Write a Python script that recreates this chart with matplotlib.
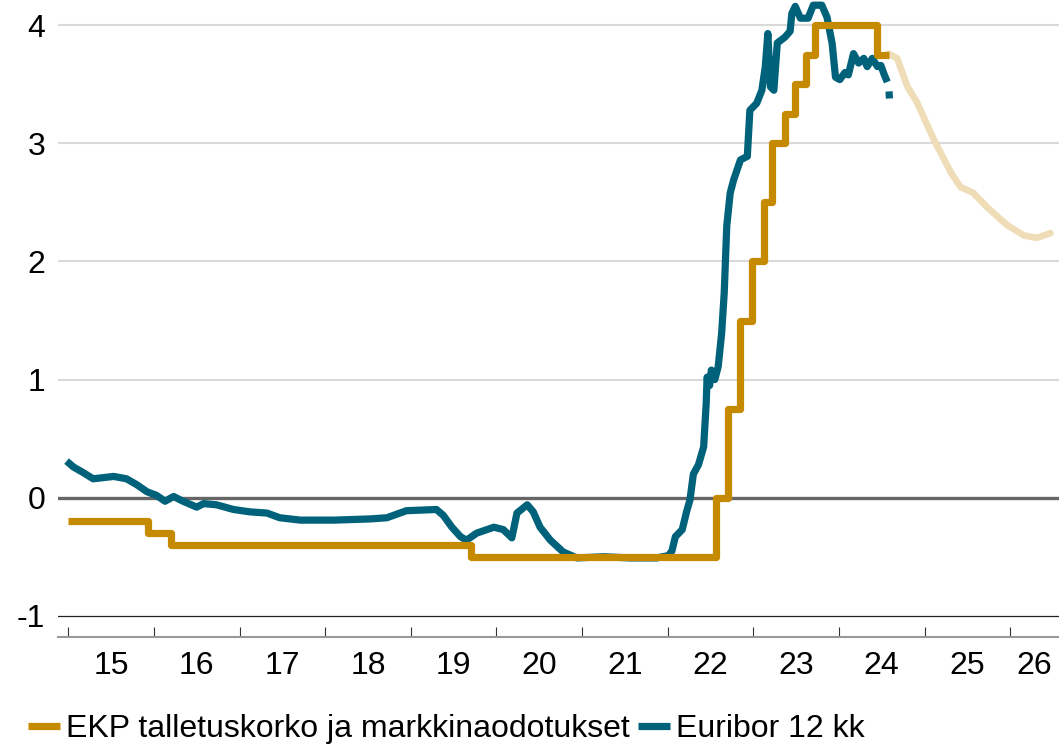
import numpy as np
import matplotlib
matplotlib.use("Agg")
import matplotlib.pyplot as plt
from matplotlib.lines import Line2D

plt.rcParams['font.family'] = ['Liberation Sans', 'DejaVu Sans']

# ---------------- data ----------------
# ECB deposit rate (change points, decimal years)
ecb_years = [2015.00, 2015.93, 2016.20, 2019.70, 2022.57, 2022.71, 2022.85,
             2022.98, 2023.12, 2023.22, 2023.37, 2023.49, 2023.61, 2023.72,
             2024.44, 2024.58]
ecb_vals = [-0.20, -0.30, -0.40, -0.50, 0.00, 0.75, 1.50,
            2.00, 2.50, 3.00, 3.25, 3.50, 3.75, 4.00,
            3.75, 3.75]

# Market expectations (forecast)
fc_years = [2024.58, 2024.68, 2024.80, 2024.91, 2025.11, 2025.31, 2025.42,
            2025.57, 2025.73, 2025.96, 2026.16, 2026.31, 2026.47]
fc_vals = [3.76, 3.72, 3.48, 3.35, 3.03, 2.75, 2.63,
           2.58, 2.46, 2.31, 2.22, 2.20, 2.24]

# Euribor 12 months
eur_years = [2014.98, 2015.06, 2015.18, 2015.29, 2015.53, 2015.68, 2015.80,
             2015.92, 2016.03, 2016.13, 2016.23, 2016.34, 2016.50, 2016.58,
             2016.73, 2016.93, 2017.12, 2017.32, 2017.47, 2017.71, 2018.10,
             2018.52, 2018.72, 2018.95, 2019.30, 2019.38, 2019.48, 2019.58,
             2019.65, 2019.77, 2019.97, 2020.08, 2020.18, 2020.24, 2020.36,
             2020.43, 2020.51, 2020.63, 2020.78, 2020.94, 2021.25, 2021.56,
             2021.87, 2022.01, 2022.05, 2022.09, 2022.17, 2022.22, 2022.26,
             2022.30, 2022.36, 2022.42, 2022.45, 2022.46, 2022.49, 2022.51,
             2022.55, 2022.59, 2022.63, 2022.66, 2022.69, 2022.73, 2022.77,
             2022.85, 2022.93, 2022.96, 2023.04, 2023.10, 2023.14, 2023.17,
             2023.20, 2023.24, 2023.28, 2023.37, 2023.43, 2023.45, 2023.49,
             2023.55, 2023.64, 2023.70, 2023.80, 2023.86, 2023.92, 2023.96,
             2024.01, 2024.07, 2024.11, 2024.17, 2024.23, 2024.29, 2024.33,
             2024.39, 2024.45, 2024.49, 2024.53, 2024.565, 2024.572,
             2024.585, 2024.59]
eur_vals = [0.31, 0.26, 0.21, 0.16, 0.18, 0.16, 0.11,
            0.05, 0.02, -0.03, 0.01, -0.03, -0.08, -0.05,
            -0.06, -0.10, -0.12, -0.13, -0.17, -0.19, -0.19,
            -0.18, -0.17, -0.11, -0.10, -0.15, -0.25, -0.33,
            -0.36, -0.30, -0.25, -0.27, -0.34, -0.13, -0.06,
            -0.12, -0.25, -0.36, -0.46, -0.51, -0.50, -0.51,
            -0.51, -0.49, -0.45, -0.33, -0.27, -0.12, -0.02,
            0.20, 0.28, 0.43, 0.80, 1.02, 0.95, 1.08,
            1.00, 1.11, 1.39, 1.73, 2.30, 2.58, 2.69,
            2.86, 2.89, 3.28, 3.34, 3.45, 3.65, 3.93,
            3.48, 3.45, 3.85, 3.90, 3.95, 4.10, 4.16,
            4.06, 4.06, 4.17, 4.17, 4.07, 3.85, 3.56,
            3.54, 3.60, 3.58, 3.76, 3.68, 3.72, 3.65,
            3.72, 3.65, 3.66, 3.58, 3.52, np.nan,
            3.44, 3.38]

year_ticks = list(range(2015, 2027))
year_labels = ['15', '16', '17', '18', '19', '20', '21', '22', '23', '24', '25', '26']
y_ticks = [-1, 0, 1, 2, 3, 4]
y_labels = ['-1', '0', '1', '2', '3', '4']
legend_labels = ['EKP talletuskorko ja markkinaodotukset', 'Euribor 12 kk']

# ---------------- style ----------------
C_ECB = '#C68A00'
C_FC = '#EEDDB6'
C_EUR = '#00627A'
FS = 23
LW = 5.2

XMIN, XMAX = 2014.88, 2026.57
YMIN, YMAX = -1.177, 4.214

fig = plt.figure(figsize=(10.59, 7.48), dpi=100)
ax = fig.add_axes([58 / 1059, (748 - 636.7) / 748, (1059 - 58) / 1059, 636.7 / 748])
ax.set_xlim(XMIN, XMAX)
ax.set_ylim(YMIN, YMAX)

# grid lines
for v in [1, 2, 3, 4]:
    ax.axhline(v, color='#D9D9D9', lw=1.5, zorder=1)
ax.axhline(-1, color='#222222', lw=0.9, zorder=1)
ax.axhline(0, color='#666666', lw=2.4, zorder=2)

# series
ax.plot(eur_years, eur_vals, color=C_EUR, lw=LW, solid_joinstyle='round',
        solid_capstyle='butt', zorder=3)
ax.plot(fc_years, fc_vals, color=C_FC, lw=LW - 0.4, solid_capstyle='round',
        solid_joinstyle='round', zorder=3)
ax.plot(ecb_years, ecb_vals, color=C_ECB, lw=LW, drawstyle='steps-post',
        solid_joinstyle='round', solid_capstyle='butt', zorder=4)

# spines
for s in ['top', 'right', 'left']:
    ax.spines[s].set_visible(False)
ax.spines['bottom'].set_color('#999999')
ax.spines['bottom'].set_linewidth(1.5)

# x ticks: marks at year starts, labels centred in visible part of the year
ax.set_xticks(year_ticks)
ax.set_xticklabels([])
ax.tick_params(axis='x', which='major', direction='in', length=7.5, width=0.8,
               color='#333333')
label_pos = []
for i, y in enumerate(year_ticks):
    lo = max(y, XMIN)
    hi = min(y + 1, XMAX)
    label_pos.append((lo + hi) / 2)
ax.set_xticks(label_pos, minor=True)
ax.set_xticklabels(year_labels, minor=True)
ax.tick_params(axis='x', which='minor', length=0, pad=10, labelsize=FS,
               labelcolor='black')

ax.set_yticks(y_ticks)
ax.set_yticklabels(y_labels)
ax.tick_params(axis='y', length=0, pad=9, labelsize=FS, labelcolor='black')

# legend
handles = [Line2D([], [], color=C_ECB, lw=LW, solid_capstyle='butt'),
           Line2D([], [], color=C_EUR, lw=LW, solid_capstyle='butt')]
fig.legend(handles, legend_labels, loc='center left',
           bbox_to_anchor=(28 / 1059, 19 / 748), ncol=2, frameon=False,
           fontsize=FS, handlelength=1.0, handletextpad=0.2,
           columnspacing=0.25, borderpad=0, borderaxespad=0)

fig.savefig('out.png', dpi=100)
